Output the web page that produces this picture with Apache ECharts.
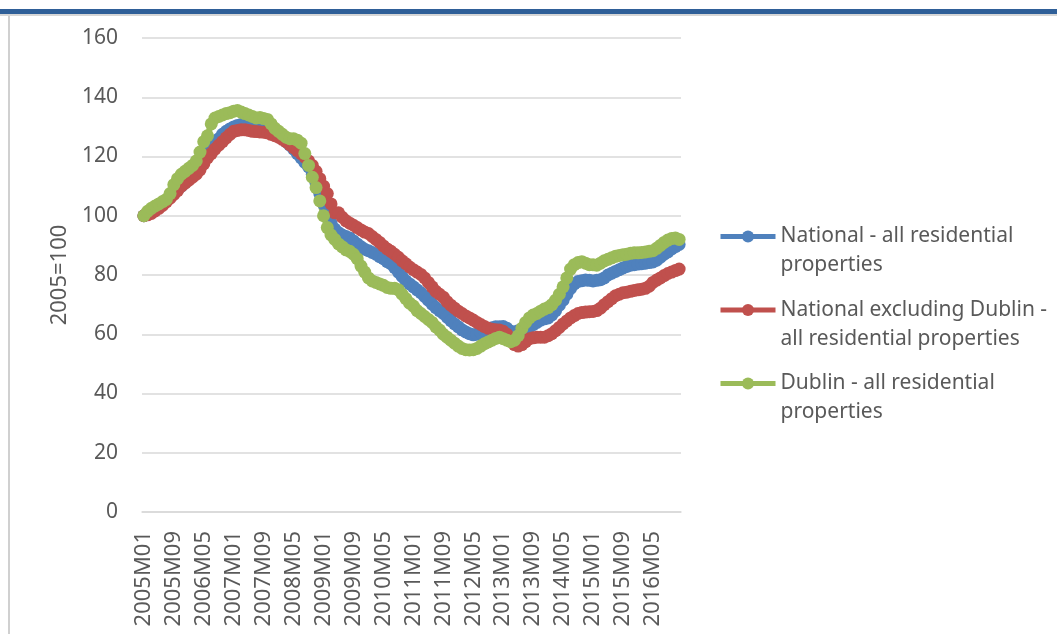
<!DOCTYPE html>
<html>
<head>
<meta charset="utf-8">
<title>Residential property price index</title>
<script src="https://cdn.jsdelivr.net/npm/echarts@6/dist/echarts.min.js"></script>
<style>
    html, body { margin: 0; padding: 0; background: #fff; }
    #chart { width: 1057px; height: 634px; }
</style>
</head>
<body>
<div id="chart"></div>
<script>
    var years = [2005, 2006, 2007, 2008, 2009, 2010, 2011, 2012, 2013, 2014, 2015, 2016];
    var months = ['M01', 'M02', 'M03', 'M04', 'M05', 'M06', 'M07', 'M08', 'M09', 'M10', 'M11', 'M12'];
    var yTicks = [0, 20, 40, 60, 80, 100, 120, 140, 160];

    var seriesNames = [
        'National - all residential\nproperties',
        'National excluding Dublin -\nall residential properties',
        'Dublin - all residential\nproperties'
    ];

    // 2005=100, monthly, one row per year
    var national = [
        100, 100.8, 101.6, 102.5, 103.3, 104.2, 105.2, 106.3, 107.5, 108.8, 110, 111.2,
        112.3, 113.5, 115, 116.5, 118.5, 120.5, 122.5, 124.5, 126, 127.5, 128.5, 129.3,
        130, 130.5, 130.8, 130.8, 130.5, 130.2, 130, 129.8, 129.5, 129.2, 128.5, 127.8,
        127, 126, 125, 123.8, 122.5, 121, 119.5, 118, 116.5, 114, 111, 107.5,
        104, 100.5, 97.5, 95.5, 94.3, 93.5, 93, 92.5, 91.5, 90.5, 89.5, 88.7,
        88.2, 87.6, 87, 86.2, 85.5, 84.5, 83.8, 82.5, 81, 79.5, 78, 77,
        76, 75, 74, 72.8, 71.5, 70.2, 69, 68, 67, 65.8, 64.6, 63.5,
        62.5, 61.5, 60.8, 60.2, 59.8, 60, 60.6, 61.2, 61.8, 62.2, 62.5, 62.5,
        62.6, 62, 61, 60.8, 61.2, 61.6, 62, 62.5, 63.2, 64, 64.8, 65.2,
        65.5, 66.5, 68, 69.8, 71.5, 73.5, 75.5, 77, 77.8, 78.1, 78.3, 78.2,
        78, 78.2, 78.4, 79, 80, 80.6, 81.2, 81.8, 82.4, 82.9, 83.3, 83.5,
        83.7, 83.8, 84, 84.2, 84.4, 85, 86, 87, 87.8, 88.8, 89.6, 90.3
    ];
    var exDublin = [
        100, 100.3, 100.8, 101.6, 102.5, 103.5, 104.7, 105.9, 107.2, 108.5, 110, 111,
        112, 113, 114, 115.5, 117.5, 119.5, 121, 122.5, 123.8, 125, 126.3, 127.5,
        128.5, 128.8, 129, 129, 128.8, 128.5, 128.4, 128.3, 128.2, 128, 127.5, 127,
        126.5, 125.8, 125, 124, 123, 122, 121, 119.8, 118.5, 117, 115, 112.5,
        110, 107.5, 104, 101, 101, 99.5, 98.3, 97.5, 96.8, 96, 95.2, 94.5,
        94, 93, 92, 91, 89.8, 88.8, 88, 87, 86, 84.8, 83.8, 82.7,
        81.8, 81, 80.2, 79, 77.5, 76, 74.5, 73.5, 72.5, 71, 69.8, 68.8,
        67.8, 67, 66.2, 65.5, 64.8, 64, 63.3, 62.6, 62, 61.7, 61.5, 61.4,
        61, 60, 58, 56.5, 56, 56.5, 57.5, 58.5, 58.8, 59, 59, 59,
        59.5, 60.2, 61.2, 62.3, 63.5, 64.5, 65.5, 66.3, 67, 67.3, 67.5, 67.6,
        67.7, 68, 68.8, 70, 71, 72, 73, 73.5, 74, 74.2, 74.5, 74.8,
        75, 75.2, 75.5, 76.2, 77.5, 78.3, 79, 79.8, 80.5, 81, 81.5, 82
    ];
    var dublin = [
        100, 101.5, 102.5, 103.3, 104, 104.8, 105.5, 107.5, 110.5, 112.5, 114, 115,
        116, 117, 118.5, 121.5, 125, 127, 131, 133, 133.5, 134, 134.5, 134.8,
        135.3, 135.5, 135, 134.5, 134, 133.5, 133, 133.2, 132.8, 132.5, 131, 129.5,
        128.5, 127.5, 126.5, 126, 126, 125.5, 124.5, 121, 117, 113, 109.5, 105,
        100, 96, 93.5, 92, 90.5, 89.5, 88.5, 88, 87, 85.5, 83, 81,
        79, 78, 77.5, 77, 76.5, 75.8, 75.5, 75.5, 75, 73.5, 72, 70.5,
        69.5, 68, 67, 66, 65, 64, 62.5, 61.4, 60, 59, 58, 57,
        56, 55.2, 54.8, 54.7, 54.8, 55.2, 56, 56.8, 57.4, 58, 58.6, 59,
        58.5, 58, 57.5, 58, 59.5, 62, 64, 65.5, 66.5, 67, 67.8, 68.5,
        69, 70, 71.5, 73.5, 76, 79, 82, 83.5, 84.2, 84.5, 84, 83.5,
        83.5, 83.3, 84, 84.8, 85.3, 85.8, 86.3, 86.6, 86.8, 87, 87.3, 87.5,
        87.5, 87.6, 87.8, 88, 88.2, 89, 90, 91, 91.8, 92.3, 92.5, 92
    ];

    var colors = ['#4F81BD', '#C0504D', '#9BBB59'];
    var textColor = '#595959';
    var font = 'Noto Sans';

    var categories = [];
    years.forEach(function (y) {
        months.forEach(function (m) {
            categories.push(y + m);
        });
    });

    function makeSeries(name, data, color) {
        return {
            name: name,
            type: 'line',
            data: data,
            symbol: 'circle',
            symbolSize: 13,
            showAllSymbol: true,
            itemStyle: { color: color },
            lineStyle: { color: color, width: 6 },
            emphasis: { disabled: true }
        };
    }

    var chart = echarts.init(document.getElementById('chart'));
    var option = {
        animation: false,
        color: colors,
        grid: { left: 142, right: 376, top: 38, bottom: 122 },
        legend: {
            orient: 'vertical',
            left: 718,
            top: 193,
            padding: 0,
            itemWidth: 55,
            itemHeight: 15,
            itemGap: -13.5,
            data: seriesNames,
            lineStyle: { width: 5 },
            // blank first line so the icon sits beside the first text line
            formatter: function (name) {
                return '\n' + name;
            },
            textStyle: {
                color: textColor,
                fontFamily: font,
                fontSize: 21,
                lineHeight: 29
            }
        },
        xAxis: {
            type: 'category',
            data: categories,
            boundaryGap: true,
            axisLine: { lineStyle: { color: '#D9D9D9', width: 1.5 } },
            axisTick: { show: false },
            axisLabel: {
                interval: 7,
                rotate: 90,
                margin: 19,
                color: textColor,
                fontFamily: font,
                fontSize: 22
            }
        },
        yAxis: {
            type: 'value',
            min: yTicks[0],
            max: yTicks[yTicks.length - 1],
            interval: 20,
            name: '2005=100',
            nameLocation: 'middle',
            nameGap: 68,
            nameRotate: 90,
            nameTextStyle: { color: textColor, fontFamily: font, fontSize: 22 },
            axisLine: { show: false },
            axisTick: { show: false },
            axisLabel: { color: textColor, fontFamily: font, fontSize: 21, margin: 24 },
            splitLine: { lineStyle: { color: '#D9D9D9', width: 1.5 } }
        },
        graphic: [
            { type: 'rect', left: 0, top: 9, shape: { width: 1057, height: 5 }, style: { fill: '#2F5F98' } },
            { type: 'rect', left: 0, top: 14, shape: { width: 1057, height: 2 }, style: { fill: '#D6D6D6' } },
            { type: 'rect', left: 8, top: 16, shape: { width: 2, height: 618 }, style: { fill: '#D0D0D0' } }
        ],
        series: [
            makeSeries(seriesNames[0], national, colors[0]),
            makeSeries(seriesNames[1], exDublin, colors[1]),
            makeSeries(seriesNames[2], dublin, colors[2])
        ]
    };
    chart.setOption(option);
</script>
</body>
</html>
